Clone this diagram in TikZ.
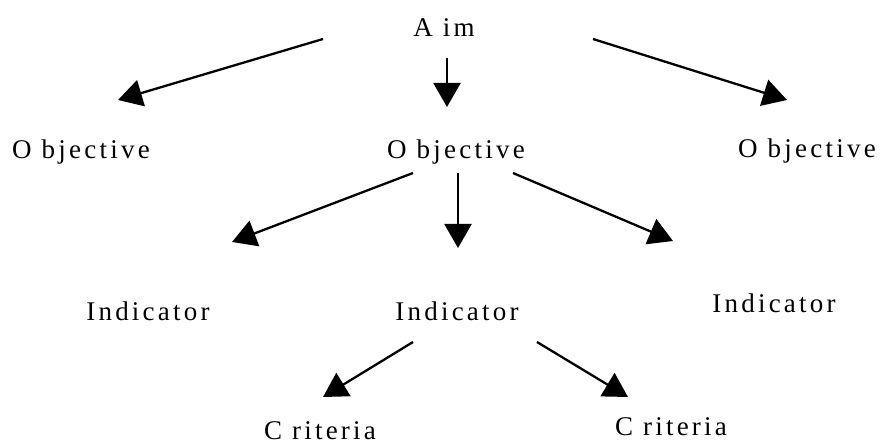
\documentclass[tikz,border=0pt]{standalone}
\usepackage{fontspec}
\setmainfont{Liberation Serif}
\newfontfamily\spaced[LetterSpace=12]{Liberation Serif}
\usetikzlibrary{arrows.meta}
\begin{document}
\begin{tikzpicture}[x=1pt,y=-1pt,
  lbl/.style={anchor=base,inner sep=0pt,font=\spaced\fontsize{27}{30}\selectfont},
  link/.style={line width=2.3pt,-{Triangle[length=24pt,width=27pt]}}]
\useasboundingbox (0,0) rectangle (880,446);

% levels of the hierarchy
\node[lbl] (aim) at (444,37) {A im};
\node[lbl] (o1) at (81,159)  {O bjective};
\node[lbl] (o2) at (456,159) {O bjective};
\node[lbl] (o3) at (807,158) {O bjective};
\node[lbl] (i1) at (148,320) {Indicator};
\node[lbl] (i2) at (457,320) {Indicator};
\node[lbl] (i3) at (774,312) {Indicator};
\node[lbl] (c1) at (320,439) {C riteria};
\node[lbl] (c2) at (671,435) {C riteria};

% arrow end points
\coordinate (aim-l) at (323,39);   \coordinate (o1-in) at (118,100);
\coordinate (aim-m) at (447,58);   \coordinate (o2-in) at (447,107);
\coordinate (aim-r) at (593,39);   \coordinate (o3-in) at (787,100);
\coordinate (o2-l) at (413,173);   \coordinate (i1-in) at (232,242);
\coordinate (o2-m) at (458,173);   \coordinate (i2-in) at (458,248);
\coordinate (o2-r) at (513,173);   \coordinate (i3-in) at (673,241);
\coordinate (i2-l) at (413,342);   \coordinate (c1-in) at (323,397);
\coordinate (i2-r) at (537,342);   \coordinate (c2-in) at (628,397);

\draw[link] (aim-l) -- (o1-in);
\draw[link] (aim-m) -- (o2-in);
\draw[link] (aim-r) -- (o3-in);
\draw[link] (o2-l) -- (i1-in);
\draw[link] (o2-m) -- (i2-in);
\draw[link] (o2-r) -- (i3-in);
\draw[link] (i2-l) -- (c1-in);
\draw[link] (i2-r) -- (c2-in);
\end{tikzpicture}
\end{document}
